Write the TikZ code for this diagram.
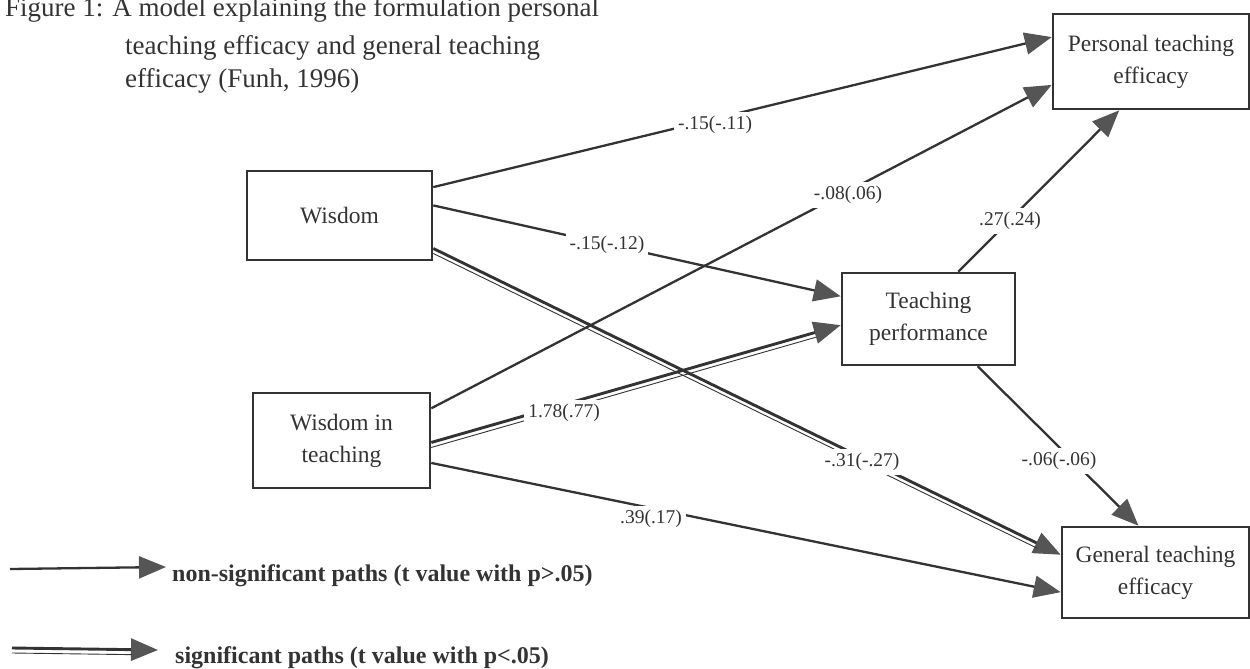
\documentclass[tikz,border=0pt]{standalone}
\usepackage{fontspec}
\setmainfont{Liberation Serif}
\usetikzlibrary{arrows.meta,calc}
\definecolor{ink}{HTML}{333333}
\definecolor{headc}{HTML}{555555}
\begin{document}
\begin{tikzpicture}[x=1pt,y=-1pt,
  box/.style={draw=ink,line width=2.6pt,text=ink,align=center,
    font=\fontsize{23.5}{32}\selectfont,inner sep=0pt},
  tip/.style={-{Triangle[length=27pt,width=22pt,color=headc]}},
  ns/.style={draw=ink,line width=2.3pt,tip},
  sig/.style={draw=ink,line width=2.9pt,tip},
  sigthin/.style={draw=ink,line width=0.9pt,shorten >=26pt,transform canvas={shift={(0,5)}}},
  lbl/.style={fill=white,text=ink,inner sep=4pt,font=\fontsize{19.5}{22}\selectfont},
  ttl/.style={anchor=base west,text=ink,inner sep=0pt,font=\fontsize{27}{33}\selectfont},
  leg/.style={anchor=base west,text=ink,inner sep=0pt,font=\fontsize{24}{28}\selectfont\bfseries}]
\useasboundingbox (0,0) rectangle (1250,669);

% title
\node[ttl] (t1) at (5,17) {Figure 1: A model explaining the formulation personal};
\node[ttl] (t2) at (125,55) {teaching efficacy and general teaching};
\node[ttl] (t3) at (125,88) {efficacy (Funh, 1996)};

% boxes
\node[box,minimum width=196pt,minimum height=95pt] (pte) at (1151,61.5) {Personal teaching\\efficacy};
\node[box,minimum width=185pt,minimum height=89pt] (wis) at (339.5,215.5) {Wisdom};
\node[box,minimum width=177pt,minimum height=95pt] (wit) at (341.5,440.5) {Wisdom in\\teaching};
\node[box,minimum width=173pt,minimum height=92pt] (tp) at (928.5,319) {Teaching\\performance};
\node[box,minimum width=187pt,minimum height=91pt] (gte) at (1155.5,572.5) {General teaching\\efficacy};

% anchor points
\coordinate (w1) at ($(wis.north east)!0.19!(wis.south east)$);
\coordinate (w2) at ($(wis.north east)!0.39!(wis.south east)$);
\coordinate (w3) at ($(wis.north east)!0.86!(wis.south east)$);
\coordinate (i1) at ($(wit.north east)!0.17!(wit.south east)$);
\coordinate (i2) at ($(wit.north east)!0.52!(wit.south east)$);
\coordinate (i3) at ($(wit.north east)!0.73!(wit.south east)$);
\coordinate (p1) at ($(pte.north west)!0.25!(pte.south west)$);
\coordinate (p2) at ($(pte.north west)!0.74!(pte.south west)$);
\coordinate (p3) at ($(pte.south west)!0.34!(pte.south east)$);
\coordinate (tw) at ($(tp.north west)!0.26!(tp.south west)$);
\coordinate (ti) at ($(tp.north west)!0.565!(tp.south west)$);
\coordinate (tt) at ($(tp.north west)!0.67!(tp.north east)$);
\coordinate (tb) at ($(tp.south west)!0.78!(tp.south east)$);
\coordinate (g1) at ($(gte.north west)!0.31!(gte.south west)$);
\coordinate (g2) at ($(gte.north west)!0.71!(gte.south west)$);
\coordinate (g3) at ($(gte.north west)!0.41!(gte.north east)$);

% non-significant paths
\draw[ns] (w1) -- (p1);
\draw[ns] (w2) -- (tw);
\draw[ns] (i1) -- (p2);
\draw[ns] (i3) -- (g2);
\draw[ns] (tt) -- (p3);
\draw[ns] (tb) -- (g3);

% significant paths
\draw[sig] (w3) -- (g1);
\draw[sigthin] (w3) -- (g1);
\draw[sig] (i2) -- (ti);
\draw[sigthin] (i2) -- (ti);

% labels
\node[lbl] (l1) at (715,125) {-.15(-.11)};
\node[lbl] (l2) at (848,195) {-.08(.06)};
\node[lbl] (l3) at (607,245) {-.15(-.12)};
\node[lbl] (l4) at (1010,221) {.27(.24)};
\node[lbl] (l5) at (564,413) {1.78(.77)};
\node[lbl] (l6) at (862,462) {-.31(-.27)};
\node[lbl] (l7) at (1059,461) {-.06(-.06)};
\node[lbl] (l8) at (651,519) {.39(.17)};

% legend
\coordinate (la) at (10,569);
\coordinate (lb) at (166,567);
\draw[ns] (la) -- (lb);
\node[leg] (lt1) at (172,581) {non-significant paths (t value with p>.05)};
\coordinate (sa) at (12,648);
\coordinate (sb) at (158,650);
\draw[sig] (sa) -- (sb);
\draw[sigthin] (sa) -- (sb);
\node[leg] (lt2) at (175,663) {significant paths (t value with p<.05)};
\end{tikzpicture}
\end{document}
